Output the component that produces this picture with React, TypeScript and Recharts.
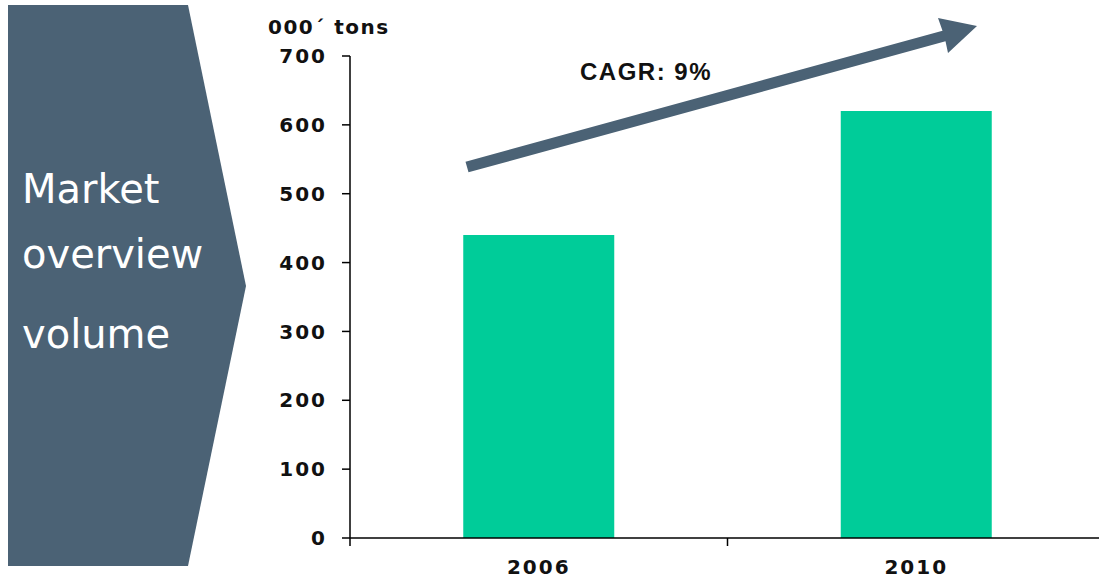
import React from 'react';
import { BarChart, Bar, XAxis, YAxis } from 'recharts';

const years = ['2006', '2010'];
const volumes = [440, 620];
const yTicks = [0, 100, 200, 300, 400, 500, 600, 700];
const unitLabel = '000´ tons';
const cagrLabel = 'CAGR: 9%';
const panelLines = ['Market', 'overview', 'volume'];

const data = years.map((year, i) => ({ year, volume: volumes[i] }));

const SLATE = '#4b6275';
const GREEN = '#00cc99';
const TICK_FONT = '"DejaVu Sans", Verdana, sans-serif';

// category label in the middle, tick mark on the left edge of the band
const YearTick = (props: any) => {
  const { x, y, payload } = props;
  const half = payload && payload.offset ? payload.offset : 188;
  return (
    <g>
      <line x1={x - half} y1={y - 15} x2={x - half} y2={y - 7} stroke="#000" strokeWidth={1.5} />
      <text
        x={x}
        y={y + 21}
        textAnchor="middle"
        fontFamily={TICK_FONT}
        fontWeight="bold"
        fontSize={20}
        letterSpacing={2}
        fill="#111"
      >
        {payload.value}
      </text>
    </g>
  );
};

const App: React.FC = () => {
  return (
    <div style={{ position: 'absolute', left: 0, top: 0, width: 1099, height: 580, overflow: 'hidden', background: '#fff' }}>
      {/* left chevron panel */}
      <svg width={260} height={580} style={{ position: 'absolute', left: 0, top: 0 }}>
        <polygon points="8,5 188,5 246,286 188,566 8,566" fill={SLATE} />
        <text x={22} y={203} fill="#fff" fontFamily={TICK_FONT} fontSize={40}>{panelLines[0]}</text>
        <text x={22} y={268} fill="#fff" fontFamily={TICK_FONT} fontSize={40}>{panelLines[1]}</text>
        <text x={22} y={348} fill="#fff" fontFamily={TICK_FONT} fontSize={40}>{panelLines[2]}</text>
      </svg>

      {/* plot runs slightly past the right edge, as in the original slide */}
      <div style={{ position: 'absolute', left: 0, top: 0 }}>
        <BarChart
          width={1105}
          height={580}
          data={data}
          margin={{ top: 56, right: 0, bottom: 0, left: 0 }}
          barCategoryGap="30%"
        >
          <XAxis
            dataKey="year"
            height={42}
            axisLine={{ stroke: '#000', strokeWidth: 1.5 }}
            tickLine={false}
            tickSize={8}
            tickMargin={7}
            tick={<YearTick />}
            interval={0}
          />
          <YAxis
            width={350}
            domain={[0, 700]}
            ticks={yTicks}
            interval={0}
            axisLine={{ stroke: '#000', strokeWidth: 1.5 }}
            tickLine={{ stroke: '#000', strokeWidth: 1.5 }}
            tickSize={8}
            tickMargin={15}
            tick={{ fill: '#111', fontFamily: TICK_FONT, fontWeight: 'bold', fontSize: 20, letterSpacing: 2 }}
          />
          <Bar dataKey="volume" fill={GREEN} isAnimationActive={false} />
        </BarChart>
      </div>

      {/* unit label, growth arrow and CAGR note */}
      <svg width={1099} height={580} style={{ position: 'absolute', left: 0, top: 0, pointerEvents: 'none' }}>
        <text x={268} y={34} fontFamily={TICK_FONT} fontWeight="bold" fontSize={20} letterSpacing={1.5} fill="#111">
          {unitLabel}
        </text>
        <polygon
          points="465.5,161.7 942.5,30.7 938,18 977,26 948,53 945.5,41.3 468.5,172.3"
          fill={SLATE}
        />
        <text x={580} y={80} fontFamily='"Liberation Sans", Arial, sans-serif' fontWeight="bold" fontSize={24} letterSpacing={1.5} fill="#111">
          {cagrLabel}
        </text>
      </svg>
    </div>
  );
};

export default App;
